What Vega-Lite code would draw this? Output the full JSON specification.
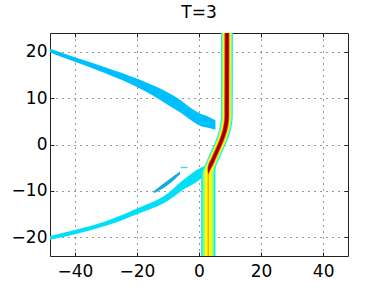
{
  "$schema": "https://vega.github.io/schema/vega-lite/v6.json",
  "width": 298,
  "height": 223,
  "autosize": {"type": "none"},
  "padding": {"left": 50, "top": 33, "right": 36, "bottom": 32},
  "background": "white",
  "title": {"text": "T=3", "font": "DejaVu Sans", "fontSize": 17, "fontWeight": "normal", "color": "#000000", "anchor": "middle", "offset": 11},
  "config": {
    "view": {"stroke": "#222222", "strokeWidth": 1},
    "axis": {"labelFont": "DejaVu Sans", "labelFontSize": 17, "labelColor": "#000000", "tickColor": "#222222", "title": null, "domain": false}
  },
  "datasets": {
    "upper": [
      {"x": -48, "y": 20.6, "y2": 19.8},
      {"x": -40, "y": 18.8, "y2": 17.8},
      {"x": -30, "y": 16.6, "y2": 15.3},
      {"x": -20, "y": 14.2, "y2": 12.4},
      {"x": -15, "y": 12.8, "y2": 10.6},
      {"x": -10, "y": 11.2, "y2": 8.5},
      {"x": -6, "y": 9.6, "y2": 6.9},
      {"x": -2.7, "y": 7.9, "y2": 5.3},
      {"x": 0.5, "y": 6.6, "y2": 4.0},
      {"x": 3, "y": 6.0, "y2": 3.6},
      {"x": 5.3, "y": 5.2, "y2": 3.2}
    ],
    "lower": [
      {"x": -48, "y": -19.7, "y2": -20.5},
      {"x": -40, "y": -18.4, "y2": -19.3},
      {"x": -30, "y": -16.5, "y2": -17.5},
      {"x": -20, "y": -13.8, "y2": -15.0},
      {"x": -10, "y": -10.5, "y2": -12.1},
      {"x": -5, "y": -7.6, "y2": -9.7},
      {"x": 0, "y": -5.2, "y2": -7.7},
      {"x": 2, "y": -4.6, "y2": -6.5}
    ],
    "streak": [
      {"x": -14.5, "y": -10.0, "y2": -10.5},
      {"x": -10, "y": -7.7, "y2": -8.7},
      {"x": -6.1, "y": -5.8, "y2": -6.4}
    ],
    "dash": [
      {"x": -5.9, "y": -4.8, "y2": -5.1},
      {"x": -3.7, "y": -4.8, "y2": -5.1}
    ],
    "b1": [
      {"y": -24, "x": 0.7, "x2": 5.3},
      {"y": -6.5, "x": 0.7, "x2": 5.3},
      {"y": -5.5, "x": 1.1, "x2": 5.3},
      {"y": -4.5, "x": 1.8, "x2": 5.6},
      {"y": -3, "x": 2.8, "x2": 6.6},
      {"y": -1.5, "x": 3.8, "x2": 7.6},
      {"y": 0, "x": 4.8, "x2": 8.6},
      {"y": 1.5, "x": 5.7, "x2": 9.5},
      {"y": 3, "x": 6.4, "x2": 10.2},
      {"y": 4.5, "x": 6.85, "x2": 10.65},
      {"y": 6, "x": 7.05, "x2": 10.85},
      {"y": 24, "x": 7.1, "x2": 10.9}
    ],
    "b2": [
      {"y": -24, "x": 1.1, "x2": 4.9},
      {"y": -6.5, "x": 1.1, "x2": 4.9},
      {"y": -5.5, "x": 1.43, "x2": 4.98},
      {"y": -4.5, "x": 2.05, "x2": 5.35},
      {"y": -3, "x": 3.05, "x2": 6.35},
      {"y": -1.5, "x": 4.05, "x2": 7.35},
      {"y": 0, "x": 5.05, "x2": 8.35},
      {"y": 1.5, "x": 5.95, "x2": 9.25},
      {"y": 3, "x": 6.65, "x2": 9.95},
      {"y": 4.5, "x": 7.1, "x2": 10.4},
      {"y": 6, "x": 7.3, "x2": 10.6},
      {"y": 24, "x": 7.35, "x2": 10.65}
    ],
    "b3": [
      {"y": -24, "x": 1.5, "x2": 4.5},
      {"y": -6.5, "x": 1.5, "x2": 4.5},
      {"y": -5.5, "x": 1.75, "x2": 4.65},
      {"y": -4.5, "x": 2.3, "x2": 5.1},
      {"y": -3, "x": 3.3, "x2": 6.1},
      {"y": -1.5, "x": 4.3, "x2": 7.1},
      {"y": 0, "x": 5.3, "x2": 8.1},
      {"y": 1.5, "x": 6.2, "x2": 9.0},
      {"y": 3, "x": 6.9, "x2": 9.7},
      {"y": 4.5, "x": 7.35, "x2": 10.15},
      {"y": 6, "x": 7.55, "x2": 10.35},
      {"y": 24, "x": 7.6, "x2": 10.4}
    ],
    "b4": [
      {"y": -24, "x": 2.0, "x2": 4.0},
      {"y": -6.5, "x": 2.0, "x2": 4.0},
      {"y": -5.5, "x": 2.13, "x2": 4.28},
      {"y": -4.5, "x": 2.55, "x2": 4.85},
      {"y": -3, "x": 3.55, "x2": 5.85},
      {"y": -1.5, "x": 4.55, "x2": 6.85},
      {"y": 0, "x": 5.55, "x2": 7.85},
      {"y": 1.5, "x": 6.45, "x2": 8.75},
      {"y": 3, "x": 7.15, "x2": 9.45},
      {"y": 4.5, "x": 7.6, "x2": 9.9},
      {"y": 6, "x": 7.8, "x2": 10.1},
      {"y": 24, "x": 7.85, "x2": 10.15}
    ],
    "b5": [
      {"y": -24, "x": 2.75, "x2": 3.25},
      {"y": -6.5, "x": 2.75, "x2": 3.25},
      {"y": -5.5, "x": 2.6, "x2": 3.8},
      {"y": -4.5, "x": 2.8, "x2": 4.6},
      {"y": -3, "x": 3.8, "x2": 5.6},
      {"y": -1.5, "x": 4.8, "x2": 6.6},
      {"y": 0, "x": 5.8, "x2": 7.6},
      {"y": 1.5, "x": 6.7, "x2": 8.5},
      {"y": 3, "x": 7.4, "x2": 9.2},
      {"y": 4.5, "x": 7.85, "x2": 9.65},
      {"y": 6, "x": 8.05, "x2": 9.85},
      {"y": 24, "x": 8.1, "x2": 9.9}
    ],
    "b6": [
      {"y": -6.5, "x": 3.0, "x2": 3.0},
      {"y": -5.5, "x": 2.85, "x2": 3.55},
      {"y": -4.5, "x": 3.0, "x2": 4.4},
      {"y": -3, "x": 4.0, "x2": 5.4},
      {"y": -1.5, "x": 5.0, "x2": 6.4},
      {"y": 0, "x": 6.0, "x2": 7.4},
      {"y": 1.5, "x": 6.9, "x2": 8.3},
      {"y": 3, "x": 7.6, "x2": 9.0},
      {"y": 4.5, "x": 8.05, "x2": 9.45},
      {"y": 6, "x": 8.25, "x2": 9.65},
      {"y": 24, "x": 8.3, "x2": 9.7}
    ],
    "b7": [
      {"y": -6.5, "x": 3.0, "x2": 3.0},
      {"y": -5.5, "x": 2.98, "x2": 3.42},
      {"y": -4.5, "x": 3.25, "x2": 4.15},
      {"y": -3, "x": 4.25, "x2": 5.15},
      {"y": -1.5, "x": 5.25, "x2": 6.15},
      {"y": 0, "x": 6.25, "x2": 7.15},
      {"y": 1.5, "x": 7.15, "x2": 8.05},
      {"y": 3, "x": 7.85, "x2": 8.75},
      {"y": 4.5, "x": 8.3, "x2": 9.2},
      {"y": 6, "x": 8.5, "x2": 9.4},
      {"y": 24, "x": 8.55, "x2": 9.45}
    ]
  },
  "layer": [
    {
      "encoding": {
        "x": {"type": "quantitative", "scale": {"domain": [-48, 48], "nice": false, "zero": false},
              "axis": {"orient": "bottom", "values": [-40, -20, 0, 20, 40], "grid": true, "gridColor": "#333333", "gridDash": [1, 5], "gridWidth": 1, "ticks": true, "tickSize": -4, "labelPadding": 11}},
        "y": {"type": "quantitative", "scale": {"domain": [-24, 24], "nice": false, "zero": false},
              "axis": {"orient": "left", "values": [-20, -10, 0, 10, 20], "grid": true, "gridColor": "#333333", "gridDash": [1, 5], "gridWidth": 1, "ticks": true, "tickSize": -4, "labelPadding": 7}}
      },
      "layer": [
        {"data": {"name": "upper"}, "mark": {"type": "area", "color": "#00bfff", "clip": true, "interpolate": "monotone"},
         "encoding": {"x": {"field": "x", "type": "quantitative"}, "y": {"field": "y", "type": "quantitative"}, "y2": {"field": "y2"}}},
        {"data": {"name": "lower"}, "mark": {"type": "area", "color": "#00e0f4", "clip": true, "interpolate": "monotone"},
         "encoding": {"x": {"field": "x", "type": "quantitative"}, "y": {"field": "y", "type": "quantitative"}, "y2": {"field": "y2"}}},
        {"data": {"name": "streak"}, "mark": {"type": "area", "color": "#1aa8e0", "clip": true, "interpolate": "monotone"},
         "encoding": {"x": {"field": "x", "type": "quantitative"}, "y": {"field": "y", "type": "quantitative"}, "y2": {"field": "y2"}}},
        {"data": {"name": "b1"}, "mark": {"type": "area", "orient": "horizontal", "color": "#10e4f0", "clip": true, "interpolate": "monotone"},
         "encoding": {"y": {"field": "y", "type": "quantitative"}, "x": {"field": "x", "type": "quantitative"}, "x2": {"field": "x2"}}},
        {"data": {"name": "b2"}, "mark": {"type": "area", "orient": "horizontal", "color": "#60ffb0", "clip": true, "interpolate": "monotone"},
         "encoding": {"y": {"field": "y", "type": "quantitative"}, "x": {"field": "x", "type": "quantitative"}, "x2": {"field": "x2"}}},
        {"data": {"name": "b3"}, "mark": {"type": "area", "orient": "horizontal", "color": "#b4ff50", "clip": true, "interpolate": "monotone"},
         "encoding": {"y": {"field": "y", "type": "quantitative"}, "x": {"field": "x", "type": "quantitative"}, "x2": {"field": "x2"}}},
        {"data": {"name": "b4"}, "mark": {"type": "area", "orient": "horizontal", "color": "#ffff00", "clip": true, "interpolate": "monotone"},
         "encoding": {"y": {"field": "y", "type": "quantitative"}, "x": {"field": "x", "type": "quantitative"}, "x2": {"field": "x2"}}},
        {"data": {"name": "b5"}, "mark": {"type": "area", "orient": "horizontal", "color": "#ffa800", "clip": true, "interpolate": "monotone"},
         "encoding": {"y": {"field": "y", "type": "quantitative"}, "x": {"field": "x", "type": "quantitative"}, "x2": {"field": "x2"}}},
        {"data": {"name": "b6"}, "mark": {"type": "area", "orient": "horizontal", "color": "#e81400", "clip": true, "interpolate": "monotone"},
         "encoding": {"y": {"field": "y", "type": "quantitative"}, "x": {"field": "x", "type": "quantitative"}, "x2": {"field": "x2"}}},
        {"data": {"name": "b7"}, "mark": {"type": "area", "orient": "horizontal", "color": "#960000", "clip": true, "interpolate": "monotone"},
         "encoding": {"y": {"field": "y", "type": "quantitative"}, "x": {"field": "x", "type": "quantitative"}, "x2": {"field": "x2"}}}
      ]
    },
    {
      "data": {"name": "dash"},
      "mark": {"type": "area", "color": "#5cc8f0", "clip": true},
      "encoding": {
        "x": {"field": "x", "type": "quantitative", "axis": {"orient": "top", "values": [-40, -20, 0, 20, 40], "labels": false, "grid": false, "ticks": true, "tickSize": -4}},
        "y": {"field": "y", "type": "quantitative", "axis": {"orient": "right", "values": [-20, -10, 0, 10, 20], "labels": false, "grid": false, "ticks": true, "tickSize": -4}},
        "y2": {"field": "y2"}
      }
    }
  ],
  "resolve": {"axis": {"x": "independent", "y": "independent"}}
}
